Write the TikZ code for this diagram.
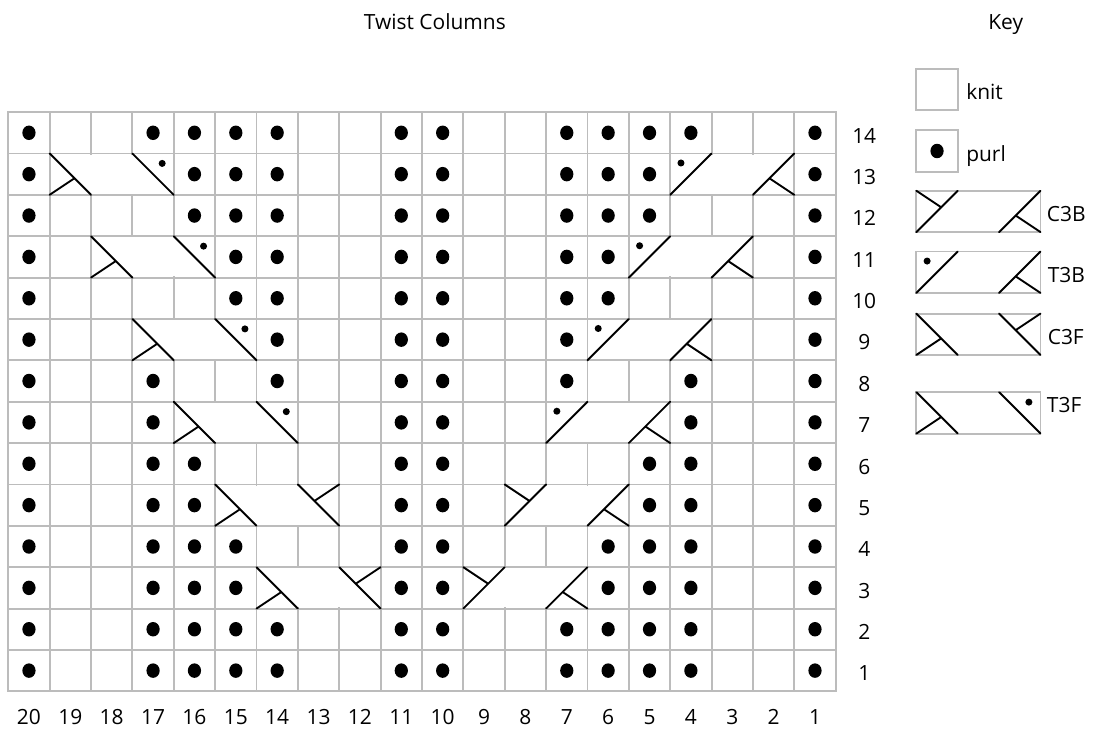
\documentclass[tikz,border=0pt]{standalone}
\usepackage{fontspec}
\setmainfont{Open Sans}
\usepackage{xcolor}
\usepackage{tikz}
\definecolor{gridcol}{RGB}{188,188,188}
\tikzset{
  gridline/.style={draw=gridcol,line width=1.3pt},
  cabline/.style={black,line width=1.3pt,line cap=round},
  lab/.style={font=\fontsize{14.4}{17}\selectfont,inner sep=0pt},
  purldot/.style={black}
}
% cable boxes, lower left corner at (#1,#2), three cells wide
\newcommand{\cabbox}{%
  \fill[white] (0.03,0.03) rectangle (2.97,0.97);
  \draw[gridline] (0,0) rectangle (3,1);}
\newcommand{\twistF}[2]{\begin{scope}[shift={(#1,#2)}]\cabbox
  \draw[cabline] (0,1)--(1,0) (0,0)--(0.6,0.4) (2,1)--(3,0);
  \fill[purldot] (2.72,0.76) circle (0.085);\end{scope}}
\newcommand{\twistB}[2]{\begin{scope}[shift={(#1,#2)}]\cabbox
  \draw[cabline] (0,0)--(1,1) (2,0)--(3,1) (3,0)--(2.4,0.4);
  \fill[purldot] (0.26,0.77) circle (0.085);\end{scope}}
\newcommand{\crossF}[2]{\begin{scope}[shift={(#1,#2)}]\cabbox
  \draw[cabline] (0,1)--(1,0) (0,0)--(0.6,0.4) (2,1)--(3,0) (3,1)--(2.4,0.6);\end{scope}}
\newcommand{\crossB}[2]{\begin{scope}[shift={(#1,#2)}]\cabbox
  \draw[cabline] (0,0)--(1,1) (0,1)--(0.6,0.6) (2,0)--(3,1) (3,0)--(2.4,0.4);\end{scope}}

\begin{document}
\begin{tikzpicture}[x=1cm,y=1cm]
  \path[use as bounding box,fill=white] (-0.2,-0.92) rectangle (26.22,16.71);
  \node[lab,anchor=base] (title) at (10.31,16.0) {Twist Columns};
  \node[lab,anchor=base] (keytitle) at (24.11,16.0) {Key};
  % chart
  \foreach \c in {1,...,20}
    \foreach \r in {1,...,14}
      \draw[gridline] ({20-\c},{\r-1}) rectangle ++(1,1);
  \foreach \r/\cols in {14/{20,17,16,15,14,11,10,7,6,5,4,1},13/{20,16,15,14,11,10,7,6,5,1},
      12/{20,16,15,14,11,10,7,6,5,1},11/{20,15,14,11,10,7,6,1},10/{20,15,14,11,10,7,6,1},
      9/{20,14,11,10,7,1},8/{20,17,14,11,10,7,4,1},7/{20,17,11,10,4,1},6/{20,17,16,11,10,5,4,1},
      5/{20,17,16,11,10,5,4,1},4/{20,17,16,15,11,10,6,5,4,1},3/{20,17,16,15,11,10,6,5,4,1},
      2/{20,17,16,15,14,11,10,7,6,5,4,1},1/{20,17,16,15,14,11,10,7,6,5,4,1}}
    \foreach \c in \cols
      \fill[purldot] ({20.5-\c},{\r-0.5}) ellipse [x radius=0.16,y radius=0.175];
  \foreach \x/\y in {1/12,2/10,3/8,4/6} \twistF{\x}{\y};
  \foreach \x/\y in {16/12,15/10,14/8,13/6} \twistB{\x}{\y};
  \foreach \x/\y in {5/4,6/2} \crossF{\x}{\y};
  \foreach \x/\y in {12/4,11/2} \crossB{\x}{\y};
  % row and column numbers
  \foreach \r in {1,...,14}
    \node[lab,anchor=base] (row\r) at (20.69,{\r-0.75}) {\r};
  \foreach \c in {1,...,20}
    \node[lab,anchor=base] (col\c) at ({20.5-\c},-0.8) {\c};
  % key
  \draw[gridline] (21.95,14.05) rectangle ++(1,1);
  \node[lab,anchor=base west] (knit) at (23.15,14.3) {knit};
  \draw[gridline] (21.95,12.56) rectangle ++(1,1);
  \fill[purldot] (22.45,13.06) ellipse [x radius=0.16,y radius=0.175];
  \node[lab,anchor=base west] (purl) at (23.15,12.8) {purl};
  \crossB{21.95}{11.1}
  \node[lab,anchor=base west] (c3b) at (25.1,11.35) {C3B};
  \twistB{21.95}{9.63}
  \node[lab,anchor=base west] (t3b) at (25.12,9.88) {T3B};
  \crossF{21.95}{8.13}
  \node[lab,anchor=base west] (c3f) at (25.12,8.38) {C3F};
  \twistF{21.95}{6.23}
  \node[lab,anchor=base west] (t3f) at (25.1,6.74) {T3F};
\end{tikzpicture}
\end{document}
